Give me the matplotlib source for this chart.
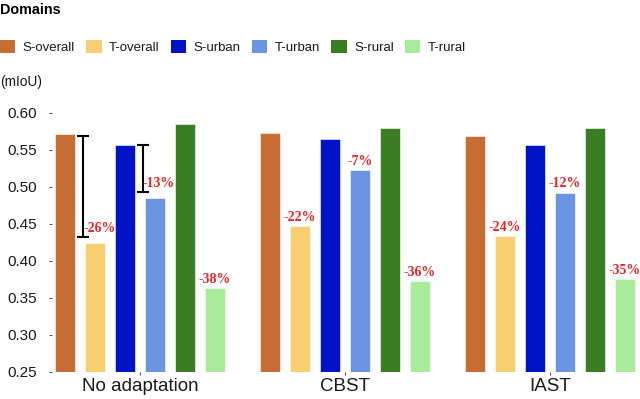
import matplotlib
matplotlib.use("Agg")
import matplotlib.pyplot as plt
from matplotlib.patches import Patch
import numpy as np

plt.rcParams['font.family'] = ['Liberation Sans', 'DejaVu Sans']

methods = ['No adaptation', 'CBST', 'IAST']
domains = ['S-overall', 'T-overall', 'S-urban', 'T-urban', 'S-rural', 'T-rural']
colors = ['#C76C33', '#F7CE70', '#0013C6', '#6B95E3', '#3A7D22', '#A8EB9B']

s_overall = [0.571, 0.572, 0.569]
t_overall = [0.424, 0.447, 0.433]
s_urban = [0.557, 0.564, 0.557]
t_urban = [0.485, 0.522, 0.492]
s_rural = [0.585, 0.579, 0.580]
t_rural = [0.363, 0.373, 0.375]

# relative drop of target vs source
drop_overall = ['-26%', '-22%', '-24%']
drop_urban = ['-13%', '-7%', '-12%']
drop_rural = ['-38%', '-36%', '-35%']

# error bars in "No adaptation" group
err_top = [0.568, 0.557]
err_bottom = [0.432, 0.4925]


def plot_chart():
    fig = plt.figure(figsize=(6.4, 3.99), dpi=100)
    ax = fig.add_axes([0.081, 0.068, 0.916, 0.668])

    series = [s_overall, t_overall, s_urban, t_urban, s_rural, t_rural]
    x = np.arange(len(methods))
    step = 0.146
    width = 0.1
    for i, vals in enumerate(series):
        ax.bar(x + (i - 2.5) * step, vals, width, bottom=0,
               color=colors[i], edgecolor='white', linewidth=0.4)

    # error bars between S and T bars of first group
    ex = [x[0] + (0 - 2.5) * step + 0.5 * step + 0.015,
          x[0] + (2 - 2.5) * step + 0.5 * step + 0.015]
    for xe, hi, lo in zip(ex, err_top, err_bottom):
        ax.errorbar(xe, (hi + lo) / 2, yerr=(hi - lo) / 2, color='black',
                    capsize=4.3, linewidth=1.5, capthick=1.5)

    # percentage labels
    drops = [(1, t_overall, drop_overall), (3, t_urban, drop_urban),
             (5, t_rural, drop_rural)]
    for k, (i, vals, labels) in enumerate(drops):
        for j in range(len(methods)):
            y = vals[j]
            dx = 0
            if j == 0 and k < 2:
                y = err_bottom[k]
                dx = 0.02
            ax.text(x[j] + (i - 2.5) * step + dx, y + 0.003, labels[j],
                    color='#F02020', fontsize=10, fontweight='bold',
                    family='Liberation Serif', ha='center', va='bottom')

    ax.set_ylim(0.25, 0.61)
    ax.set_xlim(-0.43, 2.43)
    ax.set_yticks([0.25, 0.30, 0.35, 0.40, 0.45, 0.50, 0.55, 0.60])
    ax.set_yticklabels(['%.2f' % v for v in ax.get_yticks()])
    ax.set_xticks(x)
    ax.set_xticklabels(methods)
    for sp in ax.spines.values():
        sp.set_visible(False)
    ax.tick_params(axis='y', labelsize=11, color='#555555', length=2.5,
                   width=0.8, pad=8.5, labelcolor='#1a1a1a')
    ax.tick_params(axis='x', labelsize=13.5, color='#555555', length=2.5,
                   width=0.8, pad=2, labelcolor='#1a1a1a')

    handles = [Patch(facecolor=c, label=d) for c, d in zip(colors, domains)]
    leg = fig.legend(handles=handles, ncol=6, loc='upper left',
                     bbox_to_anchor=(-0.004, 1.0), frameon=False,
                     title='Domains', alignment='left', fontsize=9.5,
                     handlelength=1.15, handleheight=1.15, handletextpad=0.55,
                     columnspacing=0.88, labelspacing=1.75,
                     borderpad=0.0, borderaxespad=0.2)
    leg.get_title().set_fontweight('bold')
    leg.get_title().set_fontsize(10.4)
    for t in leg.get_texts():
        t.set_color('#1a1a1a')
    fig.text(0.0, 0.794, '(mIoU)', fontsize=9.9, va='center', ha='left',
             color='#1a1a1a')

    fig.savefig('out.png', dpi=100)


def main():
    plot_chart()


if __name__ == '__main__':
    main()
